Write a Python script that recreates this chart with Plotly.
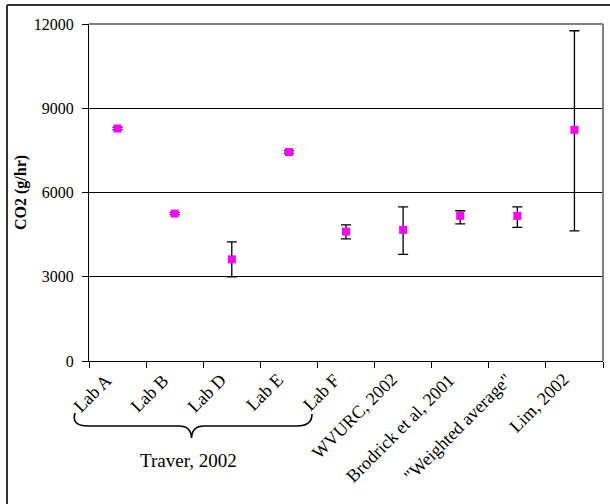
import plotly.graph_objects as go

categories = ["Lab A", "Lab B", "Lab D", "Lab E", "Lab F", "WVURC, 2002",
              "Brodrick et al, 2001", "\"Weighted average\"", "Lim, 2002"]
co2_values = [8280, 5250, 3620, 7440, 4610, 4670, 5170, 5170, 8230]
err_plus = [40, 40, 620, 50, 240, 820, 180, 320, 3530]
err_minus = [40, 40, 620, 50, 260, 870, 285, 415, 3600]
y_ticks = [0, 3000, 6000, 9000, 12000]
y_tick_text = ["0", "3000", "6000", "9000", "12000"]
group_label = "Traver, 2002"
y_title = "CO2 (g/hr)"

W, H = 610, 504
L, R, T, B = 89, 603, 24, 361
FONT = "Liberation Serif, Times New Roman, serif"


def px(x):
    return (x - L) / (R - L)


def py(y):
    return (B - y) / (B - T)


fig = go.Figure()
fig.add_trace(go.Scatter(
    x=categories, y=co2_values, mode="markers",
    marker=dict(symbol="square", size=8, color="#FF00FF"),
    error_y=dict(type="data", array=err_plus, arrayminus=err_minus,
                 color="black", thickness=1.3, width=5),
    showlegend=False,
))

shapes = []
# plot-area top/right border (gray)
shapes.append(dict(type="line", xref="paper", yref="paper", x0=0, x1=1, y0=1, y1=1,
                   line=dict(color="#808080", width=2)))
shapes.append(dict(type="line", xref="paper", yref="paper", x0=1, x1=1, y0=0, y1=1,
                   line=dict(color="#808080", width=2)))
# outer chart border (left and top visible)
shapes.append(dict(type="line", xref="paper", yref="paper", x0=px(7), x1=px(7),
                   y0=py(5), y1=py(510), line=dict(color="#333333", width=2)))
shapes.append(dict(type="line", xref="paper", yref="paper", x0=px(7), x1=px(615),
                   y0=py(5), y1=py(5), line=dict(color="#333333", width=2)))

# curly brace under Traver labs
pts = [("M", 75, 413), ("Q", 71, 426, 88, 426), ("L", 179, 426),
       ("Q", 191, 426, 191.5, 438), ("Q", 192, 426, 204, 426), ("L", 297, 426),
       ("Q", 312, 426, 312, 414)]
path = ""
for p in pts:
    cmd = p[0]
    coords = p[1:]
    s = []
    for i in range(0, len(coords), 2):
        s.append(f"{px(coords[i]):.5f},{py(coords[i+1]):.5f}")
    path += cmd + " " + " ".join(s) + " "
shapes.append(dict(type="path", xref="paper", yref="paper", path=path.strip(),
                   line=dict(color="black", width=1.6)))

annotations = [
    dict(text=group_label, xref="paper", yref="paper", x=px(188), y=py(460),
         showarrow=False, font=dict(family=FONT, size=19, color="black"),
         xanchor="center", yanchor="middle"),
    dict(text=f"<b>{y_title}</b>", xref="paper", yref="paper", x=px(21), y=py(193),
         showarrow=False, textangle=-90, font=dict(family=FONT, size=16, color="black"),
         xanchor="center", yanchor="middle"),
]
# rotated category labels (drawn as annotations so they can sit like Excel's)
for cat in categories:
    annotations.append(dict(text=cat, x=cat, xref="x", y=0, yref="y",
                            showarrow=False, textangle=-45,
                            xanchor="right", yanchor="top", xshift=1, yshift=-6,
                            font=dict(family=FONT, size=18, color="black")))

fig.update_layout(
    width=W, height=H,
    margin=dict(l=L, r=W - R, t=T, b=H - B, pad=0),
    paper_bgcolor="white", plot_bgcolor="white",
    font=dict(family=FONT, size=16, color="black"),
    shapes=shapes, annotations=annotations,
    xaxis=dict(type="category", categoryorder="array", categoryarray=categories,
               range=[-0.5, len(categories) - 0.5],
               ticks="outside", tickson="boundaries", ticklen=6, showticklabels=False,
               tickcolor="black", showline=True, linecolor="black", linewidth=1.3,
               showgrid=False, zeroline=False),
    yaxis=dict(range=[0, 12000], tickvals=y_ticks, ticktext=y_tick_text,
               ticks="outside", ticklen=6, ticklabelstandoff=5,
               tickcolor="black", showline=True, linecolor="black", linewidth=1.3,
               showgrid=True, gridcolor="black", gridwidth=1, zeroline=False,
               tickfont=dict(family=FONT, size=16, color="black")),
)

fig.write_html("out.html", config={"displayModeBar": False},
               post_script="document.body.style.margin='0';document.body.style.overflow='hidden';")
